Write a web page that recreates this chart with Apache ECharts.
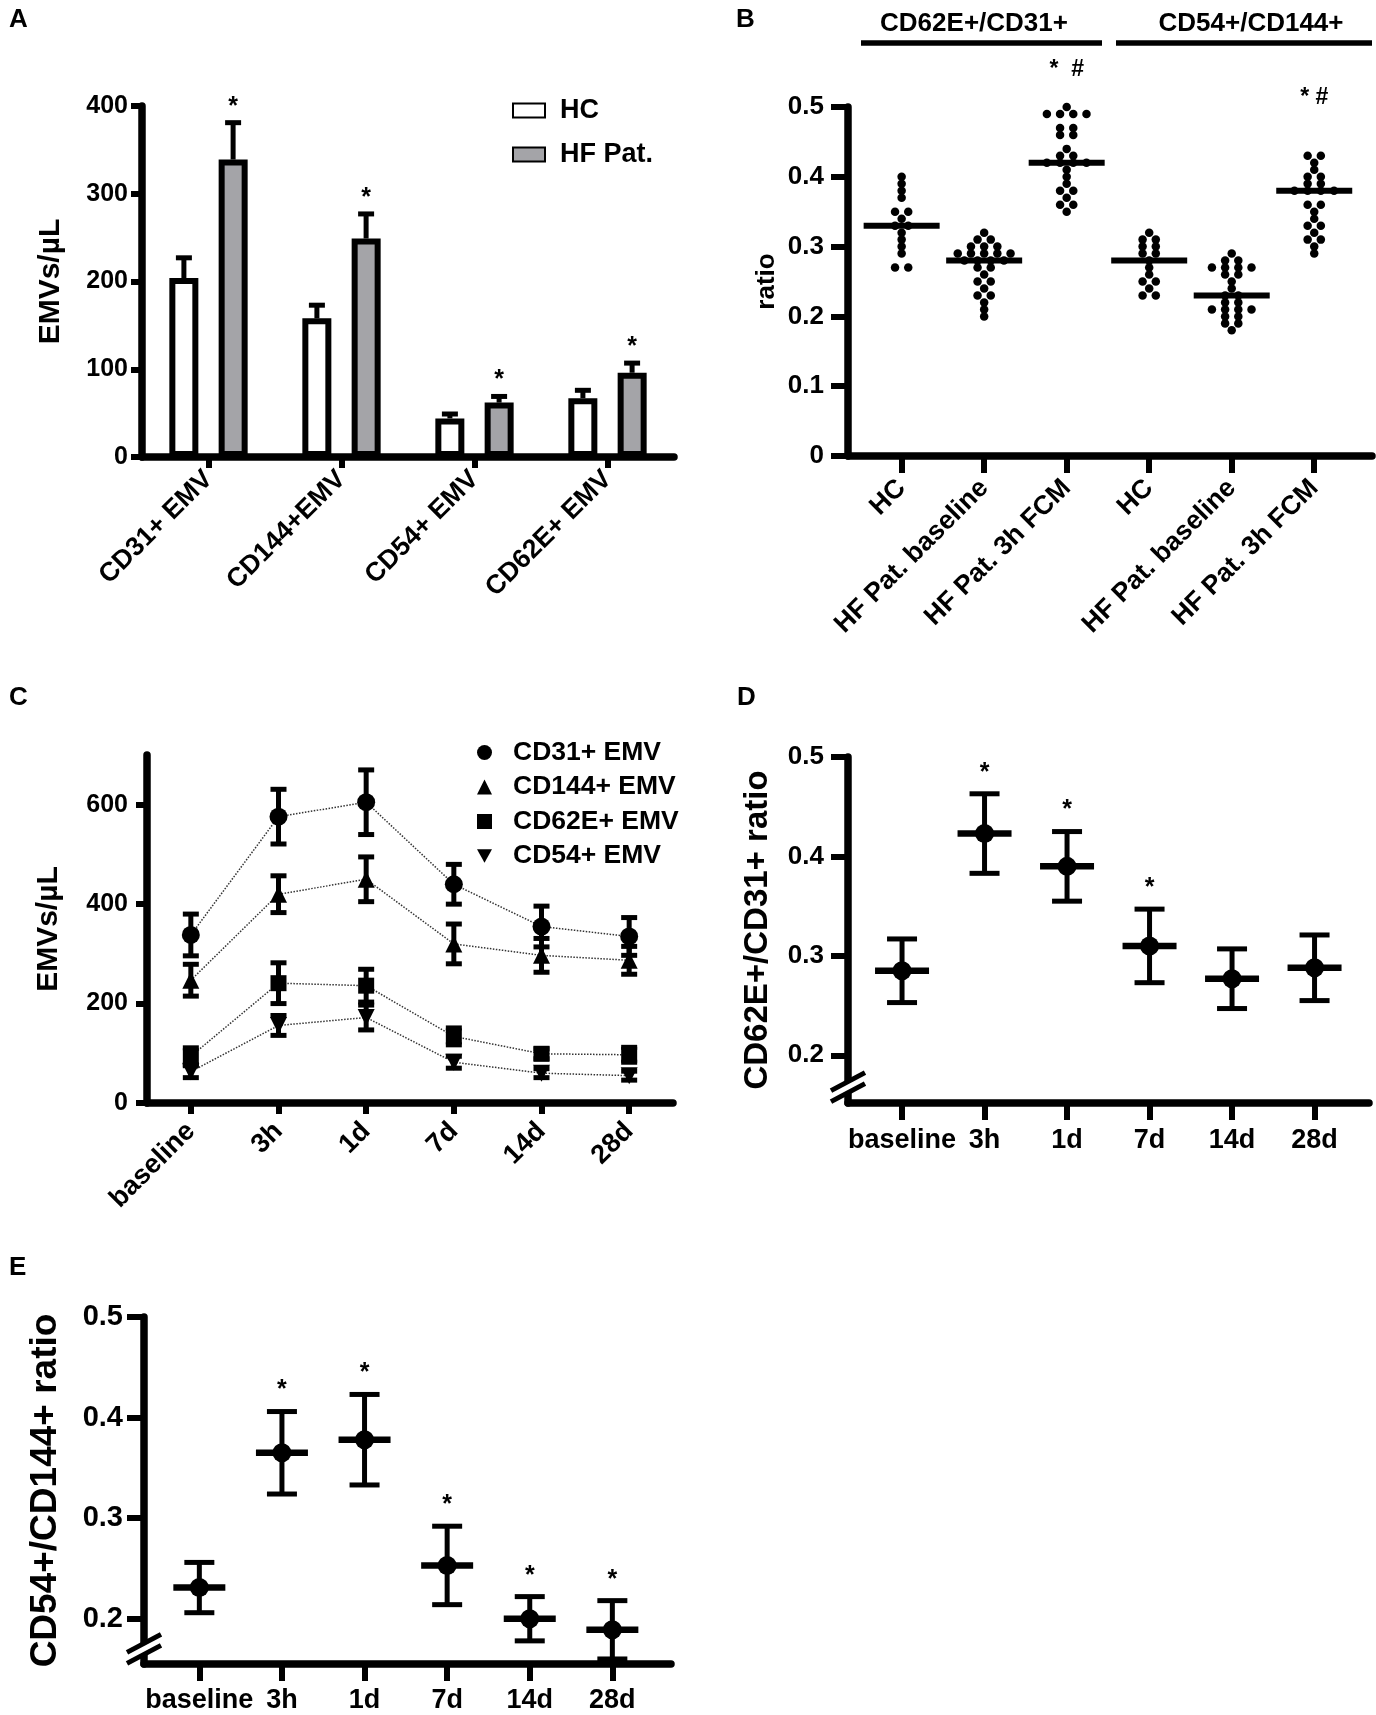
<!DOCTYPE html>
<html>
<head>
<meta charset="utf-8">
<script src="https://cdn.jsdelivr.net/npm/echarts@6/dist/echarts.min.js"></script>
<style>
  html, body { margin: 0; background: #fff; }
  #fig { width: 1376px; height: 1715px; }
</style>
</head>
<body>
<div id="fig"></div>
<script>
(function() {
  var FONT = '"Liberation Sans", Arial, Helvetica, sans-serif';

  // --- data: panel A (EMV counts, HC vs HF patients) ---
  var emvTypes = ['CD31+ EMV', 'CD144+EMV', 'CD54+ EMV', 'CD62E+ EMV'];
  var hcMean = [204, 158, 44, 67];
  var hcErr = [23, 15, 5, 9];
  var hfMean = [339, 249, 62, 96];
  var hfErr = [42, 28, 7, 11];
  var hfStar = [1, 1, 1, 1];

  // --- data: panel B (individual ratios) ---
  var ratioGroups = ['HC', 'HF Pat. baseline', 'HF Pat. 3h FCM', 'HC', 'HF Pat. baseline', 'HF Pat. 3h FCM'];
  var ratioHeaders = ['CD62E+/CD31+', 'CD54+/CD144+'];
  var dotsG1 = [0.40, 0.39, 0.38, 0.37, 0.35, 0.35, 0.34, 0.33, 0.33, 0.32, 0.31, 0.30, 0.29, 0.27, 0.27];
  var dotsG2 = [0.32, 0.31, 0.31, 0.30, 0.30, 0.30, 0.29, 0.29, 0.29, 0.29, 0.29, 0.28, 0.28, 0.28, 0.28,
                0.27, 0.27, 0.26, 0.25, 0.25, 0.24, 0.23, 0.23, 0.22, 0.21, 0.20];
  var dotsG3 = [0.50, 0.49, 0.49, 0.49, 0.49, 0.47, 0.47, 0.46, 0.46, 0.44, 0.43, 0.43, 0.42, 0.42, 0.42,
                0.42, 0.41, 0.40, 0.39, 0.38, 0.38, 0.37, 0.36, 0.36, 0.35];
  var dotsG4 = [0.32, 0.31, 0.31, 0.30, 0.30, 0.29, 0.29, 0.28, 0.27, 0.26, 0.25, 0.25, 0.24, 0.23, 0.23];
  var dotsG5 = [0.29, 0.28, 0.28, 0.27, 0.27, 0.27, 0.27, 0.26, 0.26, 0.25, 0.24, 0.23, 0.23, 0.22, 0.22,
                0.21, 0.21, 0.21, 0.21, 0.20, 0.20, 0.19, 0.19, 0.18];
  var dotsG6 = [0.43, 0.43, 0.42, 0.41, 0.40, 0.40, 0.39, 0.39, 0.38, 0.38, 0.38, 0.38, 0.36, 0.36, 0.35,
                0.34, 0.33, 0.33, 0.32, 0.31, 0.31, 0.30, 0.29];
  var ratioMarks = ['', '', '*  #', '', '', '* #'];
  var ratioMarkLevel = [0, 0, 0.56, 0, 0, 0.52];

  // --- data: panel C (time course, mean and SEM) ---
  var timePoints = ['baseline', '3h', '1d', '7d', '14d', '28d'];
  var cd31Mean = [338, 576, 605, 440, 355, 335];
  var cd31Sem = [42, 55, 65, 40, 41, 38];
  var cd144Mean = [247, 420, 450, 320, 297, 287];
  var cd144Sem = [32, 37, 45, 40, 34, 28];
  var cd62eMean = [94, 241, 236, 134, 99, 97];
  var cd62eSem = [17, 41, 33, 17, 10, 15];
  var cd54Mean = [63, 156, 172, 82, 60, 55];
  var cd54Sem = [12, 20, 25, 12, 9, 9];

  // --- data: panels D and E (ratio time course) ---
  var dMean = [0.285, 0.423, 0.390, 0.310, 0.277, 0.288];
  var dSem = [0.032, 0.040, 0.035, 0.037, 0.030, 0.033];
  var dStar = [0, 1, 1, 1, 0, 0];
  var eMean = [0.231, 0.365, 0.378, 0.253, 0.200, 0.189];
  var eSem = [0.025, 0.041, 0.045, 0.039, 0.022, 0.029];
  var eStar = [0, 1, 1, 1, 1, 1];

  var DOT_STEP = 0.16;   // horizontal spacing of tied dots, in x units
  var LW = 7.5;          // axis and bar outline width
  var EW = 5;            // error bar width

  function txt(size, extra) {
    var o = { color: '#000', fontFamily: FONT, fontWeight: 'bold', fontSize: size };
    for (var k in extra) o[k] = extra[k];
    return o;
  }
  function axLine() { return { show: true, onZero: false, lineStyle: { color: '#000', width: LW, opacity: 1 } }; }
  function axTick(len, extra) {
    var o = { show: true, length: len, lineStyle: { color: '#000', width: LW - 1.5, opacity: 1 } };
    for (var k in extra) o[k] = extra[k];
    return o;
  }
  function idx(n) { var a = []; for (var i = 0; i < n; i++) a.push(i); return a; }
  function median(arr) {
    var s = arr.slice().sort(function(a, b) { return a - b; });
    var m = Math.floor(s.length / 2);
    return s.length % 2 ? s[m] : (s[m - 1] + s[m]) / 2;
  }
  function swarm(values, g) {
    var counts = {}, seen = {}, out = [];
    values.forEach(function(v) { var k = v.toFixed(3); counts[k] = (counts[k] || 0) + 1; });
    values.forEach(function(v) {
      var k = v.toFixed(3);
      seen[k] = seen[k] === undefined ? 0 : seen[k] + 1;
      out.push([g + (seen[k] - (counts[k] - 1) / 2) * DOT_STEP, v]);
    });
    return out;
  }

  var dotGroups = [dotsG1, dotsG2, dotsG3, dotsG4, dotsG5, dotsG6];
  var dotData = [];
  dotGroups.forEach(function(g, i) { dotData = dotData.concat(swarm(g, i)); });
  var medianData = dotGroups.map(function(g, i) { return [i, median(g)]; });
  var markData = [];
  ratioMarks.forEach(function(m, i) { if (m) markData.push([i, ratioMarkLevel[i], i]); });

  var barErrData = [];
  emvTypes.forEach(function(c, i) {
    barErrData.push([i, hcMean[i], hcErr[i], -1, 0]);
    barErrData.push([i, hfMean[i], hfErr[i], 1, hfStar[i]]);
  });

  var cErrData = [];
  [[cd31Mean, cd31Sem], [cd144Mean, cd144Sem], [cd62eMean, cd62eSem], [cd54Mean, cd54Sem]].forEach(function(p) {
    p[0].forEach(function(m, i) { cErrData.push([i, m, p[1][i]]); });
  });

  function summary(mean, sem, star) {
    return mean.map(function(m, i) { return [i, m, sem[i], star[i]]; });
  }

  function starText(x, y) {
    return { type: 'text', x: x, y: y, style: { text: '*', fill: '#000', fontSize: 25, fontWeight: 'bold',
      fontFamily: FONT, align: 'center', verticalAlign: 'middle' } };
  }
  function seg(x1, y1, x2, y2, w) {
    return { type: 'line', shape: { x1: x1, y1: y1, x2: x2, y2: y2 }, style: { stroke: '#000', lineWidth: w || LW } };
  }

  var chart = echarts.init(document.getElementById('fig'));

  var grids = [
    { left: 142, top: 106, width: 532, height: 351 },
    { left: 848, top: 107, width: 524, height: 349 },
    { left: 147, top: 755, width: 526, height: 348 },
    { left: 848, top: 757, width: 521, height: 346 },
    { left: 144, top: 1317, width: 527, height: 347 }
  ];
  grids.forEach(function(g) { g.containLabel = false; g.outerBoundsMode = 'none'; });

  var letters = [['A', 9, 20], ['B', 736, 20], ['C', 9, 698], ['D', 737, 698], ['E', 9, 1268]];
  var graphic = letters.map(function(l) {
    return { type: 'text', x: l[1], y: l[2], style: { text: l[0], fill: '#000', fontSize: 26, fontWeight: 'bold',
      fontFamily: FONT, verticalAlign: 'middle' } };
  });
  graphic.push({ type: 'text', x: 974, y: 24, style: { text: ratioHeaders[0], fill: '#000', fontSize: 26,
    fontWeight: 'bold', fontFamily: FONT, align: 'center', verticalAlign: 'middle' } });
  graphic.push({ type: 'text', x: 1251, y: 24, style: { text: ratioHeaders[1], fill: '#000', fontSize: 26,
    fontWeight: 'bold', fontFamily: FONT, align: 'center', verticalAlign: 'middle' } });
  graphic.push(seg(861, 43, 1102, 43, 5.5));
  graphic.push(seg(1116, 43, 1372, 43, 5.5));

  chart.setOption({
    animation: false,
    backgroundColor: '#fff',
    grid: grids,
    legend: [
      {
        data: ['HC', 'HF Pat.'], orient: 'vertical', left: 512, top: 97, padding: 0,
        itemWidth: 32, itemHeight: 14, itemGap: 17, icon: 'rect', selectedMode: false,
        textStyle: txt(27, { lineHeight: 26, padding: [0, 0, 0, 10] })
      },
      {
        data: [
          { name: 'CD31+ EMV', icon: 'circle' },
          { name: 'CD144+ EMV', icon: 'triangle' },
          { name: 'CD62E+ EMV', icon: 'rect' },
          { name: 'CD54+ EMV', icon: 'path://M0,0L10,0L5,9Z' }
        ],
        orient: 'vertical', left: 477, top: 739, padding: 0,
        itemWidth: 15, itemHeight: 15, itemGap: 7.5, selectedMode: false,
        lineStyle: { width: 0, opacity: 0 },
        textStyle: txt(26.5, { lineHeight: 25, padding: [0, 0, 0, 16] })
      }
    ],
    xAxis: [
      {
        gridIndex: 0, type: 'category', data: emvTypes,
        axisLine: axLine(), axisTick: axTick(11, { alignWithLabel: true }),
        axisLabel: txt(26.5, { rotate: 45, margin: 18, interval: 0 })
      },
      {
        gridIndex: 1, type: 'value', min: -0.65, max: 5.7, splitLine: { show: false },
        axisLine: axLine(), axisTick: axTick(17, { customValues: idx(6) }),
        axisLabel: txt(26.5, { rotate: 45, margin: 28, customValues: idx(6),
          formatter: function(v) { return ratioGroups[Math.round(v)]; } })
      },
      {
        gridIndex: 2, type: 'category', data: timePoints,
        axisLine: axLine(), axisTick: axTick(11, { alignWithLabel: true }),
        axisLabel: txt(27, { rotate: 45, margin: 24, interval: 0 })
      },
      {
        gridIndex: 3, type: 'value', min: -0.655, max: 5.66, splitLine: { show: false },
        axisLine: axLine(), axisTick: axTick(17, { customValues: idx(6) }),
        axisLabel: txt(27, { margin: 24, customValues: idx(6),
          formatter: function(v) { return timePoints[Math.round(v)]; } })
      },
      {
        gridIndex: 4, type: 'value', min: -0.67, max: 5.71, splitLine: { show: false },
        axisLine: axLine(), axisTick: axTick(17, { customValues: idx(6) }),
        axisLabel: txt(27, { margin: 23, customValues: idx(6),
          formatter: function(v) { return timePoints[Math.round(v)]; } })
      }
    ],
    yAxis: [
      {
        gridIndex: 0, type: 'value', min: 0, max: 400, interval: 100, splitLine: { show: false },
        name: 'EMVs/µL', nameLocation: 'middle', nameGap: 76, nameTextStyle: txt(30),
        axisLine: axLine(), axisTick: axTick(11), axisLabel: txt(25, { margin: 14 })
      },
      {
        gridIndex: 1, type: 'value', min: 0, max: 0.5, interval: 0.1, splitLine: { show: false },
        name: 'ratio', nameLocation: 'middle', nameGap: 68, nameTextStyle: txt(26),
        axisLine: axLine(), axisTick: axTick(17), axisLabel: txt(26, { margin: 24 })
      },
      {
        gridIndex: 2, type: 'value', min: 0, max: 700, splitLine: { show: false },
        name: 'EMVs/µL', nameLocation: 'middle', nameGap: 83, nameTextStyle: txt(30),
        axisLine: axLine(), axisTick: axTick(11, { customValues: [0, 200, 400, 600] }),
        axisLabel: txt(25, { margin: 19, customValues: [0, 200, 400, 600] })
      },
      {
        gridIndex: 3, type: 'value', min: 0.152, max: 0.5, splitLine: { show: false },
        name: 'CD62E+/CD31+ ratio', nameLocation: 'middle', nameGap: 74, nameTextStyle: txt(33),
        axisLine: axLine(), axisTick: axTick(17, { customValues: [0.2, 0.3, 0.4, 0.5] }),
        axisLabel: txt(26, { margin: 24, customValues: [0.2, 0.3, 0.4, 0.5],
          formatter: function(v) { return v.toFixed(1); } })
      },
      {
        gridIndex: 4, type: 'value', min: 0.155, max: 0.5, splitLine: { show: false },
        name: 'CD54+/CD144+ ratio', nameLocation: 'middle', nameGap: 80, nameTextStyle: txt(37),
        axisLine: axLine(), axisTick: axTick(17, { customValues: [0.2, 0.3, 0.4, 0.5] }),
        axisLabel: txt(29, { margin: 21, customValues: [0.2, 0.3, 0.4, 0.5],
          formatter: function(v) { return v.toFixed(1); } })
      }
    ],
    graphic: graphic,
    series: [
      // --- A: bars with upper SEM and stars ---
      {
        name: 'HC', type: 'bar', xAxisIndex: 0, yAxisIndex: 0, data: hcMean,
        barWidth: 29, barGap: '70%',
        itemStyle: { color: '#fff', borderColor: '#000', borderWidth: LW - 1.5 }
      },
      {
        name: 'HF Pat.', type: 'bar', xAxisIndex: 0, yAxisIndex: 0, data: hfMean,
        barWidth: 29, barGap: '70%',
        itemStyle: { color: '#a4a4a8', borderColor: '#000', borderWidth: LW - 1.5 }
      },
      {
        type: 'custom', xAxisIndex: 0, yAxisIndex: 0, data: barErrData, z: 5,
        renderItem: function(params, api) {
          var base = api.coord([api.value(0), api.value(1)]);
          var top = api.coord([api.value(0), api.value(1) + api.value(2)]);
          var x = base[0] + api.value(3) * 24.6;
          var ch = [seg(x, base[1], x, top[1], EW), seg(x - 8, top[1], x + 8, top[1], EW)];
          if (api.value(4)) ch.push(starText(x, top[1] - 16));
          return { type: 'group', children: ch };
        }
      },
      // --- B: dot plot with medians ---
      {
        type: 'scatter', xAxisIndex: 1, yAxisIndex: 1, data: dotData,
        symbol: 'circle', symbolSize: 8.5, itemStyle: { color: '#000', opacity: 1 }
      },
      {
        type: 'custom', xAxisIndex: 1, yAxisIndex: 1, data: medianData, z: 5,
        renderItem: function(params, api) {
          var p = api.coord([api.value(0), api.value(1)]);
          return seg(p[0] - 38, p[1], p[0] + 38, p[1], 6);
        }
      },
      {
        type: 'custom', xAxisIndex: 1, yAxisIndex: 1, data: markData,
        renderItem: function(params, api) {
          var p = api.coord([api.value(0), api.value(1)]);
          return { type: 'text', x: p[0], y: p[1] + 5, style: { text: ratioMarks[api.value(2)], fill: '#000',
            fontSize: 23, fontWeight: 'bold', fontFamily: FONT, align: 'center', verticalAlign: 'middle' } };
        }
      },
      // --- C: time course lines ---
      {
        type: 'custom', xAxisIndex: 2, yAxisIndex: 2, data: cErrData, z: 3,
        renderItem: function(params, api) {
          var hi = api.coord([api.value(0), api.value(1) + api.value(2)]);
          var lo = api.coord([api.value(0), api.value(1) - api.value(2)]);
          var x = hi[0];
          return { type: 'group', children: [
            seg(x, lo[1], x, hi[1], EW), seg(x - 8, hi[1], x + 8, hi[1], EW), seg(x - 8, lo[1], x + 8, lo[1], EW)
          ] };
        }
      },
      {
        name: 'CD31+ EMV', type: 'line', xAxisIndex: 2, yAxisIndex: 2, data: cd31Mean, z: 4,
        symbol: 'circle', symbolSize: 18, itemStyle: { color: '#000' },
        lineStyle: { color: '#333', width: 1.5, type: 'dotted' }
      },
      {
        name: 'CD144+ EMV', type: 'line', xAxisIndex: 2, yAxisIndex: 2, data: cd144Mean, z: 4,
        symbol: 'triangle', symbolSize: 17, itemStyle: { color: '#000' },
        lineStyle: { color: '#333', width: 1.5, type: 'dotted' }
      },
      {
        name: 'CD62E+ EMV', type: 'line', xAxisIndex: 2, yAxisIndex: 2, data: cd62eMean, z: 4,
        symbol: 'rect', symbolSize: 16, itemStyle: { color: '#000' },
        lineStyle: { color: '#333', width: 1.5, type: 'dotted' }
      },
      {
        name: 'CD54+ EMV', type: 'line', xAxisIndex: 2, yAxisIndex: 2, data: cd54Mean, z: 4,
        symbol: 'triangle', symbolRotate: 180, symbolSize: 17, itemStyle: { color: '#000' },
        lineStyle: { color: '#333', width: 1.5, type: 'dotted' }
      },
      // --- D and E: mean with SEM ---
      summarySeries(3, summary(dMean, dSem, dStar), 27),
      summarySeries(4, summary(eMean, eSem, eStar), 26)
    ]
  });

  function summarySeries(ax, data, half) {
    return {
      type: 'custom', xAxisIndex: ax, yAxisIndex: ax, data: data, z: 5,
      renderItem: function(params, api) {
        var m = api.coord([api.value(0), api.value(1)]);
        var hi = api.coord([api.value(0), api.value(1) + api.value(2)]);
        var lo = api.coord([api.value(0), api.value(1) - api.value(2)]);
        var x = m[0];
        var ch = [
          seg(x, lo[1], x, hi[1], EW),
          seg(x - 15, hi[1], x + 15, hi[1], EW),
          seg(x - 15, lo[1], x + 15, lo[1], EW),
          seg(x - half, m[1], x + half, m[1], 6.5),
          { type: 'circle', shape: { cx: x, cy: m[1], r: 9.5 }, style: { fill: '#000' } }
        ];
        if (api.value(3)) ch.push(starText(x, hi[1] - 21));
        return { type: 'group', children: ch };
      }
    };
  }

  // axis break marks on the D and E y axes
  function breakMark(gi, xmin, at) {
    var p = chart.convertToPixel({ gridIndex: gi }, [xmin, at]);
    var x = p[0], yU = p[1] - 5.5, yL = p[1] + 5.5;
    return [
      { type: 'polygon', shape: { points: [[x - 17, yU + 9], [x + 17, yU - 9], [x + 17, yL - 9], [x - 17, yL + 9]] },
        style: { fill: '#fff' }, z: 100 },
      { type: 'line', shape: { x1: x - 17, y1: yU + 9, x2: x + 17, y2: yU - 9 }, style: { stroke: '#000', lineWidth: 5 }, z: 101 },
      { type: 'line', shape: { x1: x - 17, y1: yL + 9, x2: x + 17, y2: yL - 9 }, style: { stroke: '#000', lineWidth: 5 }, z: 101 }
    ];
  }
  chart.setOption({ graphic: graphic.concat(breakMark(3, -0.655, 0.168), breakMark(4, -0.67, 0.170)) });

  window.addEventListener('resize', function() { chart.resize(); });
})();
</script>
</body>
</html>
